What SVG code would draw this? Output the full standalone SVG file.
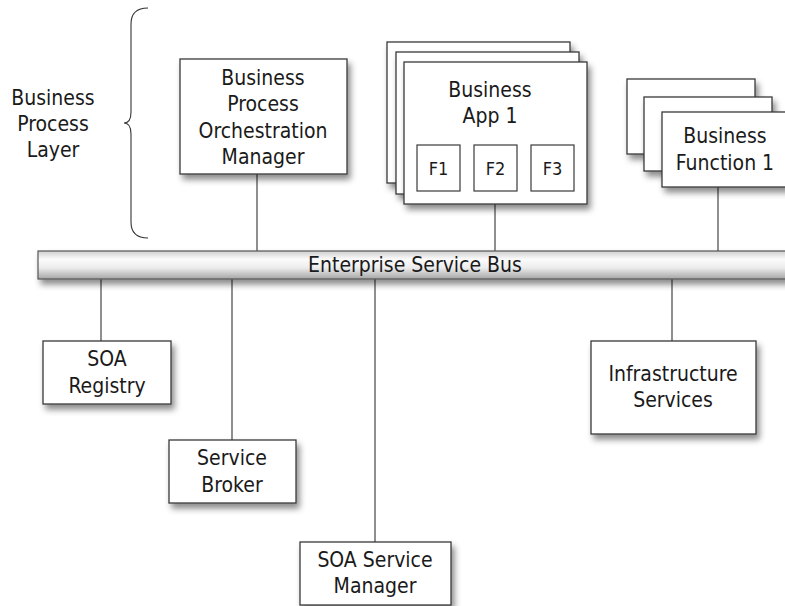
<svg xmlns="http://www.w3.org/2000/svg" width="785" height="606" viewBox="0 0 785 606">
<defs>
<filter id="sh" x="-20%" y="-20%" width="150%" height="160%">
<feDropShadow dx="3" dy="5" stdDeviation="3" flood-color="#000" flood-opacity="0.45"/>
</filter>
<linearGradient id="bus" x1="0" y1="0" x2="0" y2="1">
<stop offset="0" stop-color="#cfcfcf"/>
<stop offset="0.3" stop-color="#fbfbfb"/>
<stop offset="0.6" stop-color="#ececec"/>
<stop offset="1" stop-color="#a5a5a5"/>
</linearGradient>
</defs>
<style>
.box{fill:#fff;stroke:#3a3a3a;stroke-width:1.3;filter:url(#sh)}
.sub{fill:#fff;stroke:#3a3a3a;stroke-width:1.2}
.t{font-family:"DejaVu Sans Condensed","Liberation Sans",Arial,sans-serif;font-size:21px;fill:#1a1a1a;text-anchor:middle}
.s{font-size:18px}
.ln{stroke:#333;stroke-width:1.1;fill:none}
</style>
<rect width="785" height="606" fill="#fff"/>
<g id="connectors">
<line class="ln" x1="257" y1="174" x2="257" y2="252"/>
<line class="ln" x1="495" y1="204" x2="495" y2="252"/>
<line class="ln" x1="718" y1="187" x2="718" y2="252"/>
<line class="ln" x1="101" y1="278" x2="101" y2="341"/>
<line class="ln" x1="232" y1="278" x2="232" y2="440"/>
<line class="ln" x1="375" y1="278" x2="375" y2="542"/>
<line class="ln" x1="672" y1="278" x2="672" y2="341"/>
</g>
<g id="layer-label">
<path class="ln" d="M148,8 Q131,8 131,24 L131,112 Q131,123 124,123 Q131,123 131,134 L131,222 Q131,238 148,238" stroke="#444" stroke-width="1.2"/>
<text class="t" x="53" y="105">Business</text>
<text class="t" x="53" y="131">Process</text>
<text class="t" x="53" y="157">Layer</text>
</g>
<g id="bpom">
<rect class="box" x="180" y="59" width="167" height="115"/>
<text class="t" x="263" y="85">Business</text>
<text class="t" x="263" y="111">Process</text>
<text class="t" x="263" y="138">Orchestration</text>
<text class="t" x="263" y="164">Manager</text>
</g>
<g id="business-app">
<rect class="box" x="387" y="42" width="183" height="141"/>
<rect class="box" x="396" y="52" width="183" height="142"/>
<rect class="box" x="404" y="62" width="183" height="142"/>
<text class="t" x="490" y="97">Business</text>
<text class="t" x="490" y="123">App 1</text>
<rect class="sub" x="417" y="145" width="43" height="46"/>
<rect class="sub" x="474" y="145" width="43" height="46"/>
<rect class="sub" x="531" y="145" width="43" height="46"/>
<text class="t s" x="438.5" y="175">F1</text>
<text class="t s" x="495.5" y="175">F2</text>
<text class="t s" x="552.5" y="175">F3</text>
</g>
<g id="business-function">
<rect class="box" x="627" y="79" width="128" height="75"/>
<rect class="box" x="644" y="97" width="128" height="74"/>
<rect class="box" x="662" y="112" width="130" height="75"/>
<text class="t" x="725" y="143">Business</text>
<text class="t" x="725" y="170">Function 1</text>
</g>
<g id="esb">
<rect x="38" y="251" width="760" height="28" fill="url(#bus)" stroke="#555" stroke-width="1.2" filter="url(#sh)"/>
<text class="t" x="415" y="272">Enterprise Service Bus</text>
</g>
<g id="soa-registry">
<rect class="box" x="43" y="341" width="128" height="63"/>
<text class="t" x="107" y="366">SOA</text>
<text class="t" x="107" y="393">Registry</text>
</g>
<g id="service-broker">
<rect class="box" x="169" y="440" width="127" height="63"/>
<text class="t" x="232" y="465">Service</text>
<text class="t" x="232" y="492">Broker</text>
</g>
<g id="soa-service-manager">
<rect class="box" x="300" y="542" width="151" height="63"/>
<text class="t" x="375" y="567">SOA Service</text>
<text class="t" x="375" y="593">Manager</text>
</g>
<g id="infrastructure-services">
<rect class="box" x="591" y="341" width="165" height="93"/>
<text class="t" x="673" y="381">Infrastructure</text>
<text class="t" x="673" y="407">Services</text>
</g>
</svg>
